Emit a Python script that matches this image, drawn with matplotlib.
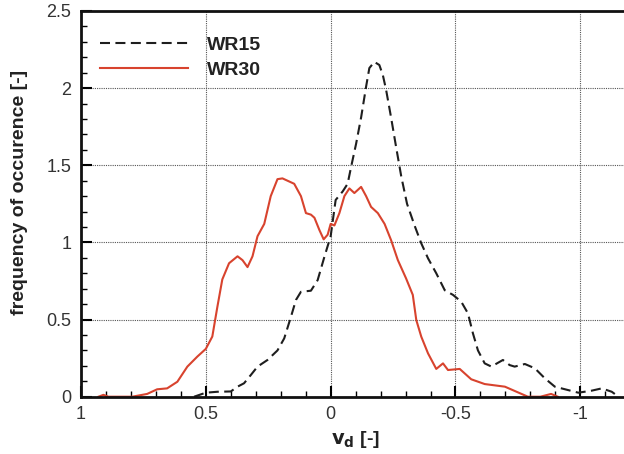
import matplotlib
matplotlib.use("Agg")
import matplotlib.pyplot as plt
from matplotlib.ticker import MultipleLocator

plt.rcParams['font.family'] = ['Liberation Sans', 'DejaVu Sans']

# Distribution of v_d for the two configurations
wr15_v = [0.547, 0.50, 0.454, 0.40, 0.373, 0.347, 0.32, 0.293, 0.253, 0.213, 0.186,
          0.159, 0.139, 0.119, 0.079, 0.052, 0.025, 0.0, -0.02, -0.048, -0.068,
          -0.082, -0.102, -0.122, -0.142, -0.155, -0.175, -0.195, -0.209, -0.222,
          -0.242, -0.262, -0.283, -0.306, -0.336, -0.363, -0.39, -0.423, -0.457,
          -0.49, -0.523, -0.55, -0.57, -0.59, -0.617, -0.644, -0.665, -0.69, -0.717,
          -0.737, -0.778, -0.818, -0.858, -0.898, -0.939, -0.992, -1.045, -1.086,
          -1.126, -1.153]
wr15_f = [0.0, 0.026, 0.032, 0.034, 0.065, 0.087, 0.14, 0.195, 0.238, 0.30, 0.378,
          0.518, 0.627, 0.68, 0.687, 0.756, 0.907, 1.04, 1.275, 1.33, 1.38,
          1.49, 1.64, 1.81, 2.01, 2.13, 2.17, 2.15, 2.085, 1.99,
          1.81, 1.62, 1.426, 1.25, 1.11, 0.994, 0.897, 0.80, 0.69,
          0.66, 0.616, 0.54, 0.41, 0.30, 0.216, 0.195, 0.215, 0.238, 0.205,
          0.195, 0.212, 0.184, 0.119, 0.065, 0.048, 0.026, 0.039, 0.054,
          0.032, 0.0]

wr30_v = [0.93, 0.91, 0.89, 0.795, 0.735, 0.695, 0.655, 0.614, 0.574, 0.534, 0.50,
          0.474, 0.454, 0.434, 0.407, 0.373, 0.353, 0.333, 0.313, 0.293, 0.266,
          0.24, 0.213, 0.193, 0.146, 0.119, 0.099, 0.079, 0.065, 0.045, 0.028,
          0.012, 0.0, -0.015, -0.035, -0.055, -0.075, -0.095, -0.122, -0.142,
          -0.162, -0.189, -0.216, -0.242, -0.269, -0.302, -0.329, -0.343, -0.363,
          -0.39, -0.423, -0.45, -0.47, -0.517, -0.563, -0.617, -0.698, -0.79,
          -0.84, -0.883, -0.91]
wr30_f = [0.0, 0.012, 0.0, 0.0, 0.018, 0.048, 0.054, 0.097, 0.195, 0.26, 0.31,
          0.39, 0.58, 0.76, 0.865, 0.91, 0.885, 0.84, 0.91, 1.04, 1.12,
          1.30, 1.41, 1.415, 1.38, 1.30, 1.19, 1.18, 1.16, 1.08, 1.02,
          1.05, 1.12, 1.11, 1.19, 1.30, 1.35, 1.32, 1.36, 1.30,
          1.23, 1.19, 1.12, 1.015, 0.886, 0.767, 0.66, 0.497, 0.389,
          0.281, 0.18, 0.216, 0.173, 0.18, 0.113, 0.082, 0.065, 0.0,
          0.0, 0.018, 0.0]

x_ticks = [1, 0.5, 0, -0.5, -1]
x_tick_labels = ["1", "0.5", "0", "-0.5", "-1"]
y_ticks = [0, 0.5, 1, 1.5, 2, 2.5]
y_tick_labels = ["0", "0.5", "1", "1.5", "2", "2.5"]

fig = plt.figure(figsize=(6.24, 4.54), dpi=100)
ax = fig.add_axes([0.1298, 0.1262, 0.8802, 0.8496])

ax.plot(wr15_v, wr15_f, color='#1e1e1e', lw=1.5, ls=(0, (4.8, 2.6)),
        solid_joinstyle='round', label='WR15')
ax.plot(wr30_v, wr30_f, color='#d8432e', lw=1.5, solid_joinstyle='round',
        label='WR30')

ax.set_xlim(1, -1.2)
ax.set_ylim(0, 2.5)
ax.set_xticks(x_ticks)
ax.set_xticklabels(x_tick_labels)
ax.set_yticks(y_ticks)
ax.set_yticklabels(y_tick_labels)
ax.xaxis.set_minor_locator(MultipleLocator(0.1))
ax.yaxis.set_minor_locator(MultipleLocator(0.1))

ax.grid(True, which='major', color='#555555', ls=(0, (1, 1)), lw=0.8)
ax.tick_params(which='major', direction='in', length=8, width=1.5,
               labelsize=13, labelcolor='#333333', pad=7,
               top=False, right=False)
ax.tick_params(which='minor', direction='in', length=4, width=1,
               top=False, right=False)

for side in ('left', 'bottom', 'top'):
    ax.spines[side].set_linewidth(2)
    ax.spines[side].set_color('#111111')
ax.spines['right'].set_visible(False)

ax.set_xlabel(r'$\mathbf{v_d}$ [-]', fontsize=14, fontweight='bold', color='#222222', labelpad=4)
ax.set_ylabel('frequency of occurence [-]', fontsize=14, fontweight='bold', color='#222222')
ax.yaxis.set_label_coords(-0.097, 0.53)

leg = ax.legend(loc='upper left', bbox_to_anchor=(0.0, 0.985), frameon=False,
                handlelength=4.5, borderaxespad=0.6, labelspacing=0.4,
                handletextpad=1.0, prop={'weight': 'bold', 'size': 14})
for t in leg.get_texts():
    t.set_color('#222222')

fig.savefig('out.png', dpi=100)
